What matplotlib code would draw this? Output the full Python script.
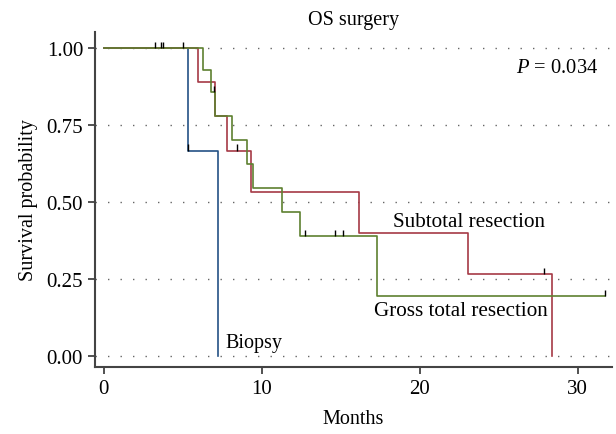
import matplotlib
matplotlib.use("Agg")
import matplotlib.pyplot as plt

plt.rcParams['font.family'] = ['Liberation Serif', 'DejaVu Serif']
plt.rcParams['mathtext.fontset'] = 'custom'
plt.rcParams['mathtext.it'] = 'Liberation Serif:italic'
plt.rcParams['mathtext.rm'] = 'Liberation Serif'

# Kaplan-Meier steps (months, survival)
biopsy_t = [0, 5.3, 7.23]
biopsy_s = [1.0, 0.667, 0.0]
biopsy_cens_t = [5.3]
biopsy_cens_s = [0.667]

subtotal_t = [0, 5.95, 7.04, 7.82, 9.29, 16.16, 23.06, 28.36]
subtotal_s = [1.0, 0.889, 0.778, 0.667, 0.533, 0.400, 0.267, 0.0]
subtotal_cens_t = [8.45, 27.9]
subtotal_cens_s = [0.667, 0.267]

gross_t = [0, 6.29, 6.77, 7.04, 8.13, 9.08, 9.43, 11.28, 12.43, 17.3, 31.76]
gross_s = [1.0, 0.929, 0.857, 0.779, 0.701, 0.623, 0.545, 0.467, 0.389, 0.195, 0.195]
gross_cens_t = [6.98, 12.75, 14.63, 15.16, 31.76]
gross_cens_s = [0.857, 0.389, 0.389, 0.389, 0.195]

top_cens_t = [3.27, 3.62, 3.72, 5.01]
top_cens_s = [1.0, 1.0, 1.0, 1.0]

yticks = [0.0, 0.25, 0.5, 0.75, 1.0]
ytick_labels = ['0.00', '0.25', '0.50', '0.75', '1.00']
xticks = [0, 10, 20, 30]

col_biopsy = '#245285'
col_subtotal = '#a63a46'
col_gross = '#5e8030'

fig = plt.figure(figsize=(6.16, 4.35), dpi=100)
ax = fig.add_axes([0.154, 0.154, 0.84, 0.77])

for y in yticks:
    ax.axhline(y, color='#666666', lw=1.0, linestyle=(0, (1, 8)), zorder=0)

ax.step(biopsy_t, biopsy_s, where='post', color=col_biopsy, lw=1.2)
ax.step(subtotal_t, subtotal_s, where='post', color=col_subtotal, lw=1.2)
ax.step(gross_t, gross_s, where='post', color=col_gross, lw=1.2)

# censor ticks, drawn upward
tick_h = 0.02
for ct, cs in [(biopsy_cens_t, biopsy_cens_s), (subtotal_cens_t, subtotal_cens_s),
               (gross_cens_t, gross_cens_s), (top_cens_t, top_cens_s)]:
    ax.vlines(ct, cs, [s + tick_h for s in cs], color='black', lw=1.0, zorder=5)

ax.set_xlim(-0.57, 32.2)
ax.set_ylim(-0.036, 1.052)
ax.set_xticks(xticks)
ax.set_yticks(yticks)
ax.set_yticklabels(ytick_labels)
ax.tick_params(labelsize=15, length=5, width=1.2, color='#333333')
for side in ['top', 'right']:
    ax.spines[side].set_visible(False)
for side in ['left', 'bottom']:
    ax.spines[side].set_color('#444444')
    ax.spines[side].set_linewidth(1.5)

ax.set_xlabel('Months', fontsize=14.5, labelpad=8)
ax.set_ylabel('Survival probability', fontsize=14.5, labelpad=6)
ax.set_title('OS surgery', fontsize=14.5, pad=6)

ax.text(23.1, 0.437, 'Subtotal resection', fontsize=15.2, ha='center', va='center')
ax.text(22.6, 0.149, 'Gross total resection', fontsize=15.2, ha='center', va='center')
ax.text(7.67, 0.045, 'Biopsy', fontsize=14.5, ha='left', va='center')
ax.text(31.3, 0.938, '$P$ = 0.034', fontsize=14.8, ha='right', va='center')

fig.savefig('out.png', dpi=100)
